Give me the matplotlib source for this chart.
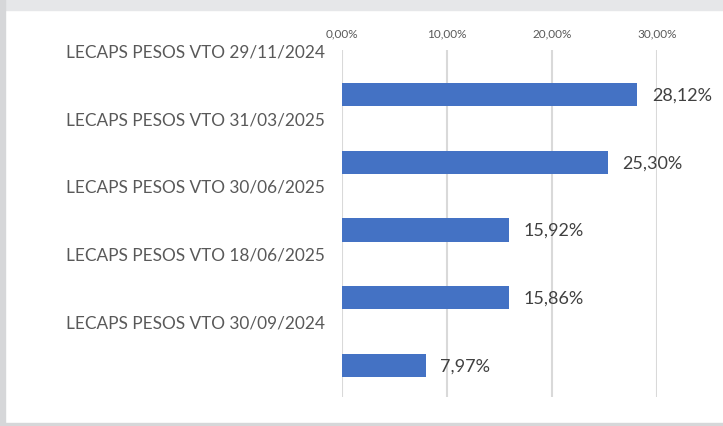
import matplotlib
matplotlib.use("Agg")
import matplotlib.pyplot as plt
from matplotlib.patches import Rectangle

labels = ["LECAPS PESOS VTO 29/11/2024", "LECAPS PESOS VTO 31/03/2025",
          "LECAPS PESOS VTO 30/06/2025", "LECAPS PESOS VTO 18/06/2025",
          "LECAPS PESOS VTO 30/09/2024"]
values = [28.12, 25.30, 15.92, 15.86, 7.97]
xticks = [0, 10, 20, 30]

plt.rcParams['font.family'] = ['Lato', 'DejaVu Sans']

W, H = 723, 427
fig = plt.figure(figsize=(W / 100, H / 100), dpi=100)

# window frame like the screenshot
fig.patches.append(Rectangle((0, 1 - 11 / H), 1, 11 / H, transform=fig.transFigure,
                             color='#e6e7e9', zorder=0))
fig.patches.append(Rectangle((0, 0), 5 / W, 1, transform=fig.transFigure,
                             color='#d6d7d9', zorder=0))
fig.patches.append(Rectangle((0, 0), 1, 3 / H, transform=fig.transFigure,
                             color='#d6d7d9', zorder=0))

ax = fig.add_axes([342 / W, 1 - 398 / H, (657 - 342) / W, (398 - 51) / H])
y = list(range(len(values)))
ax.barh(y, values, height=0.343, color='#4472C4', zorder=3)
ax.set_xlim(0, 30)
ax.set_ylim(4.47, -0.49)

for v, yy in zip(values, y):
    ax.annotate(f"{v:.2f}%".replace('.', ','), (v, yy), xytext=(10.5, 0),
                textcoords='offset points', va='center', ha='left',
                fontsize=13, color='#404040', annotation_clip=False)

ax.set_xticks(xticks)
ax.set_xticklabels([f"{t:.2f}%".replace('.', ',') for t in xticks])
ax.xaxis.tick_top()
ax.tick_params(axis='x', length=0, pad=8.5, labelsize=8.5, labelcolor='#595959')
ax.set_yticks([yy - 0.66 for yy in y])
ax.set_yticklabels(labels)
ax.tick_params(axis='y', length=0, pad=12, labelsize=12.4, labelcolor='#595959')
ax.grid(axis='x', color='#d9d9d9', linewidth=1.5, zorder=0)
for s in ax.spines.values():
    s.set_visible(False)

fig.savefig('out.png', dpi=100)
